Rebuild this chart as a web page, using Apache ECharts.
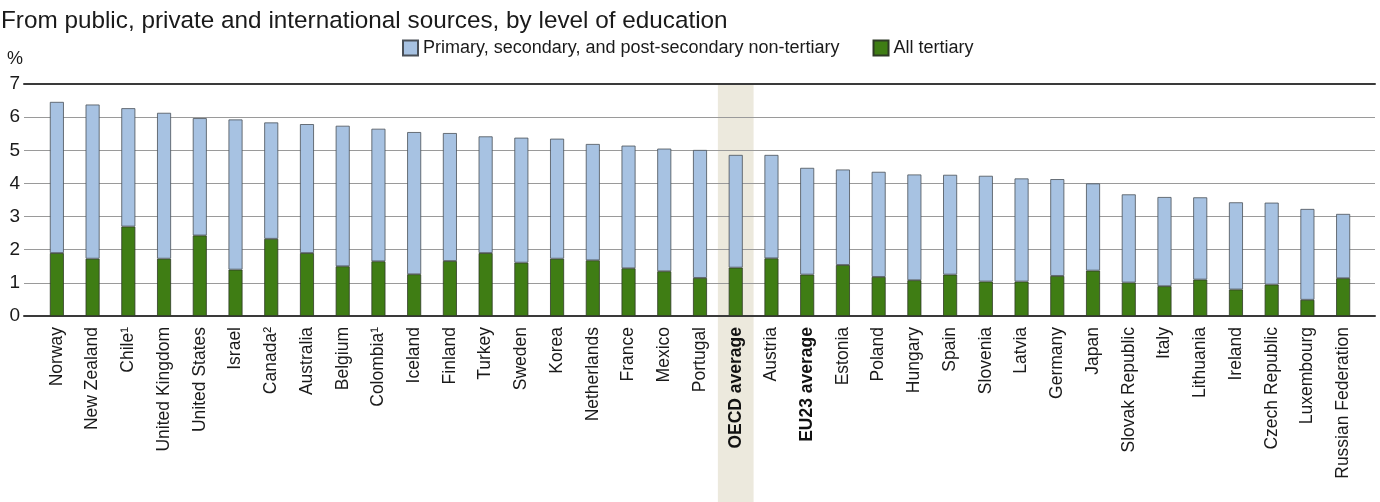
<!DOCTYPE html>
<html>
<head>
<meta charset="utf-8">
<script src="https://cdn.jsdelivr.net/npm/echarts@6/dist/echarts.min.js"></script>
<style>
  html, body { margin: 0; padding: 0; background: #fff; }
  #chart { width: 1380px; height: 502px; }
</style>
</head>
<body>
<div id="chart"></div>
<script>
// Expenditure on educational institutions as a percentage of GDP
const countries = [
  'Norway', 'New Zealand', 'Chile¹', 'United Kingdom', 'United States', 'Israel',
  'Canada²', 'Australia', 'Belgium', 'Colombia¹', 'Iceland', 'Finland', 'Turkey',
  'Sweden', 'Korea', 'Netherlands', 'France', 'Mexico', 'Portugal', 'OECD average',
  'Austria', 'EU23 average', 'Estonia', 'Poland', 'Hungary', 'Spain', 'Slovenia',
  'Latvia', 'Germany', 'Japan', 'Slovak Republic', 'Italy', 'Lithuania', 'Ireland',
  'Czech Republic', 'Luxembourg', 'Russian Federation'
];

// All tertiary (% of GDP)
const tertiary = [
  1.90, 1.73, 2.70, 1.73, 2.43, 1.40, 2.33, 1.90, 1.50, 1.65, 1.26, 1.66, 1.90,
  1.61, 1.73, 1.68, 1.44, 1.35, 1.15, 1.46, 1.74, 1.25, 1.54, 1.18, 1.08, 1.25,
  1.04, 1.04, 1.21, 1.37, 1.01, 0.90, 1.10, 0.80, 0.95, 0.49, 1.14
];

// Primary, secondary and post-secondary non-tertiary (% of GDP)
const nonTertiary = [
  4.56, 4.65, 3.57, 4.40, 3.54, 4.53, 3.51, 3.89, 4.24, 4.00, 4.29, 3.86, 3.52,
  3.77, 3.62, 3.51, 3.70, 3.70, 3.86, 3.40, 3.12, 3.22, 2.88, 3.17, 3.19, 3.01,
  3.19, 3.11, 2.92, 2.63, 2.66, 2.69, 2.48, 2.63, 2.47, 2.74, 1.94
];

const boldCategories = ['OECD average', 'EU23 average'];
const highlighted = 'OECD average';

const seriesNames = ['Primary, secondary, and post-secondary non-tertiary', 'All tertiary'];
const yMin = 0, yMax = 7, yStep = 1;

const FONT = '"Liberation Sans", Arial, sans-serif';
const TOP = 84, BOTTOM = 186;

const chart = echarts.init(document.getElementById('chart'), null, { renderer: 'canvas' });

const option = {
  animation: false,
  backgroundColor: '#ffffff',
  textStyle: { fontFamily: FONT },
  title: {
    text: 'From public, private and international sources, by level of education',
    left: -4, top: 4,
    textStyle: { fontFamily: FONT, fontSize: 24.3, fontWeight: 'normal', color: '#1a1a1a' }
  },
  legend: {
    left: 397, top: 34,
    itemWidth: 15, itemHeight: 15, itemGap: 33,
    icon: 'rect',
    textStyle: { fontFamily: FONT, fontSize: 18, color: '#1a1a1a', padding: [0, 0, 0, 0] },
    data: seriesNames
  },
  grid: [
    { left: 24, right: 5, top: TOP, bottom: BOTTOM },
    { left: 39, right: 19, top: TOP, bottom: BOTTOM }
  ],
  xAxis: [
    {
      gridIndex: 0, type: 'value', min: 0, max: 1, position: 'bottom',
      axisLine: { show: true, onZero: false, lineStyle: { color: '#3a3a3a', width: 2 } },
      axisTick: { show: false }, axisLabel: { show: false }, splitLine: { show: false }
    },
    {
      gridIndex: 0, type: 'value', min: 0, max: 1, position: 'top',
      axisLine: { show: true, onZero: false, lineStyle: { color: '#3a3a3a', width: 2 } },
      axisTick: { show: false }, axisLabel: { show: false }, splitLine: { show: false }
    },
    {
      gridIndex: 1, type: 'category', data: countries,
      axisLine: { show: false }, axisTick: { show: false },
      axisLabel: {
        rotate: 90, interval: 0, margin: 11,
        fontFamily: FONT, fontSize: 17.5, color: '#1a1a1a',
        formatter: function (v) {
          return boldCategories.indexOf(v) >= 0 ? '{b|' + v + '}' : v;
        },
        rich: { b: { fontFamily: FONT, fontSize: 17.5, fontWeight: 'bold', color: '#111' } }
      }
    }
  ],
  yAxis: [
    {
      gridIndex: 0, type: 'value', min: yMin, max: yMax, interval: yStep,
      name: '%', nameLocation: 'end', nameGap: 16,
      nameTextStyle: { fontFamily: FONT, fontSize: 18, color: '#1a1a1a', align: 'right', padding: [0, 1, 0, 0] },
      axisLine: { show: false }, axisTick: { show: false },
      axisLabel: { margin: 4, fontFamily: FONT, fontSize: 19, color: '#1a1a1a' },
      splitLine: { show: true, lineStyle: { color: '#9a9a9a', width: 1.2 } }
    },
    {
      gridIndex: 1, type: 'value', min: yMin, max: yMax, interval: yStep, show: false,
      splitLine: { show: false }
    }
  ],
  series: [
    {
      name: seriesNames[1], type: 'bar', stack: 'total',
      xAxisIndex: 2, yAxisIndex: 1,
      barWidth: 14,
      itemStyle: { color: '#3f7d14', borderColor: '#2e3a26', borderWidth: 0.8 },
      data: tertiary
    },
    {
      name: seriesNames[0], type: 'bar', stack: 'total',
      xAxisIndex: 2, yAxisIndex: 1,
      barWidth: 14,
      itemStyle: { color: '#a7c2e2', borderColor: '#4a5058', borderWidth: 0.8 },
      data: nonTertiary
    }
  ]
};

chart.setOption(option);

// Shaded column behind the OECD average, from the top of the plot to the page bottom
const cx = chart.convertToPixel({ xAxisIndex: 2 }, highlighted);
const step = chart.convertToPixel({ xAxisIndex: 2 }, countries[1]) - chart.convertToPixel({ xAxisIndex: 2 }, countries[0]);
chart.setOption({
  graphic: {
    elements: [{
      type: 'rect', z: -10, silent: true,
      shape: { x: cx - step / 2, y: TOP + 1, width: step, height: chart.getHeight() - TOP },
      style: { fill: '#ece9dd' }
    }]
  }
});
</script>
</body>
</html>
